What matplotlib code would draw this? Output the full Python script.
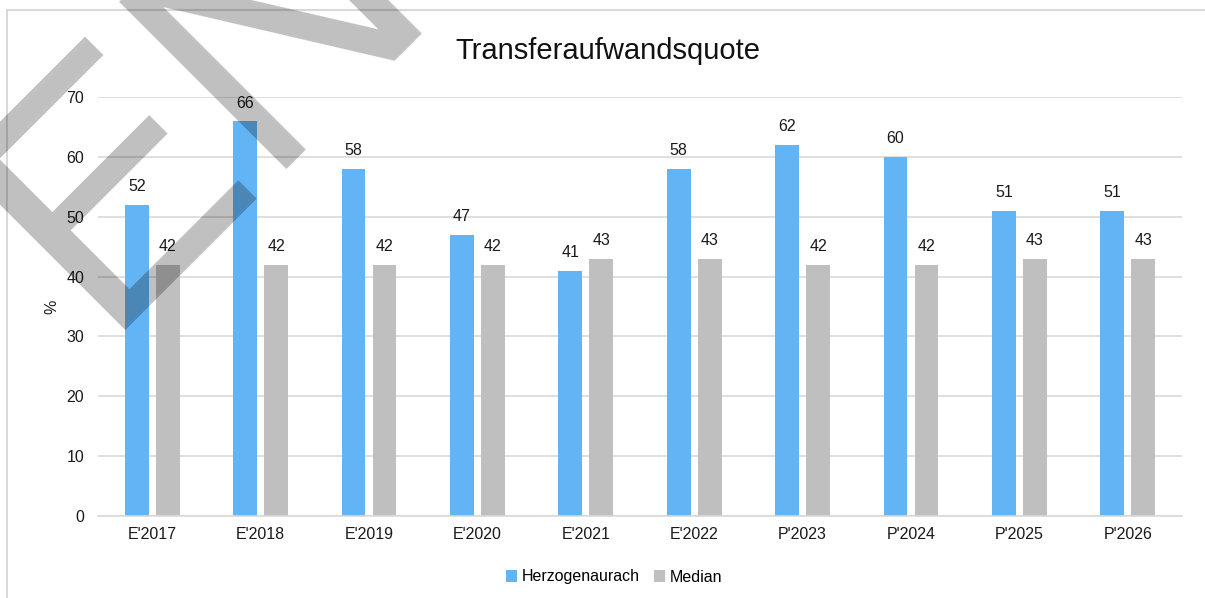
import numpy as np
import matplotlib
matplotlib.use('Agg')
import matplotlib.pyplot as plt
from matplotlib.patches import Rectangle

plt.rcParams['font.family'] = ['Liberation Sans', 'DejaVu Sans']

years = ["E'2017", "E'2018", "E'2019", "E'2020", "E'2021", "E'2022",
         "P'2023", "P'2024", "P'2025", "P'2026"]
herzo = [52, 66, 58, 47, 41, 58, 62, 60, 51, 51]
median = [42, 42, 42, 42, 43, 43, 42, 42, 43, 43]
title = 'Transferaufwandsquote'
series_names = ['Herzogenaurach', 'Median']

blue = '#63B4F4'
grey = '#BFBFBF'
grid_col = '#D9D9D9'

fig = plt.figure(figsize=(12.05, 5.98), dpi=100)
ax = fig.add_axes([98/1205, 1-516/598, (1182-98)/1205, (516-97)/598])

x = np.arange(len(years))
w = 0.22
off = 0.143
b1 = ax.bar(x - off, herzo, w, color=blue, label=series_names[0], zorder=2)
b2 = ax.bar(x + off, median, w, color=grey, label=series_names[1], zorder=2)

for bars, vals in [(b1, herzo), (b2, median)]:
    for r, v in zip(bars, vals):
        ax.annotate(str(v), (r.get_x() + r.get_width()/2, v), xytext=(0, 7.5),
                    textcoords='offset points', ha='center', va='bottom',
                    fontsize=11.5, color='#1a1a1a')

ax.set_xlim(-0.5, len(years) - 0.5)
ax.set_ylim(0, 70)
ax.set_yticks(np.arange(0, 71, 10))
ax.set_xticks(x)
ax.set_xticklabels(years)
ax.tick_params(axis='both', length=0, labelsize=11.5, labelcolor='#1a1a1a')
ax.tick_params(axis='x', pad=8)
ax.tick_params(axis='y', pad=10)
ax.yaxis.grid(True, color=grid_col, lw=1.2, zorder=0)
ax.set_axisbelow(True)
for s in ['top', 'right', 'left']:
    ax.spines[s].set_visible(False)
ax.spines['bottom'].set_color(grid_col)
ax.spines['bottom'].set_linewidth(1.2)
ax.set_ylabel('%', fontsize=11.5, color='#1a1a1a')
ax.yaxis.set_label_coords(-0.036, 0.5)

fig.text(608/1205, 1-59/598, title, ha='center', va='baseline', fontsize=21, color='#111111')

fig.legend(handles=[b1, b2], loc='center', bbox_to_anchor=(614/1205, 1-577/598),
           ncol=2, frameon=False, fontsize=11.5, handlelength=0.7, handleheight=0.7,
           handletextpad=0.3, columnspacing=0.9)

# outer chart border (clipped at right and bottom)
fig.patches.append(Rectangle((7/1205, -0.2), 2, 1.2 - 10/598, transform=fig.transFigure,
                             fill=False, edgecolor=grid_col, lw=1.5))

# watermark
fig.text(98/1205, 1-330/598, 'ENTWURF', rotation=45, rotation_mode='anchor',
         ha='left', va='baseline', fontsize=247, color='black', alpha=0.25, zorder=10)

fig.savefig('out.png', dpi=100)
